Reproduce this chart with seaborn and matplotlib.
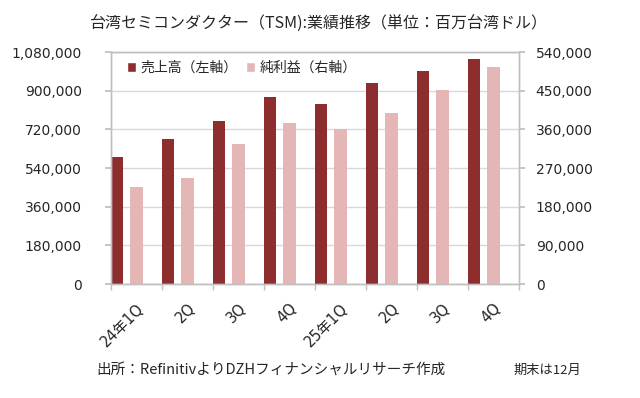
import numpy as np
import pandas as pd
import matplotlib
matplotlib.use("Agg")
import matplotlib.pyplot as plt
import matplotlib.transforms as mtransforms
import seaborn as sns
from matplotlib.patches import Patch
from matplotlib.ticker import FuncFormatter, FixedLocator

sns.set_theme(style="white")
plt.rcParams["font.family"] = ["DejaVu Sans", "Noto Sans CJK JP"]

# ---- data (百万台湾ドル) ----
quarters = ["24年1Q", "2Q", "3Q", "4Q", "25年1Q", "2Q", "3Q", "4Q"]
revenue = [592600, 673500, 759700, 868500, 839300, 933800, 989900, 1046100]
net_income = [225500, 247800, 325300, 374700, 361600, 398300, 452300, 505700]
left_ticks = [0, 180000, 360000, 540000, 720000, 900000, 1080000]
right_ticks = [0, 90000, 180000, 270000, 360000, 450000, 540000]
series_names = ["売上高（左軸）", "純利益（右軸）"]

RED = "#8E2D2D"
PINK = "#E4B6B6"
GRID = "#D9D9D9"
SPINE = "#BFBFBF"
TXT = "#262626"
CJK = ["Noto Sans CJK JP", "DejaVu Sans"]

fig = plt.figure(figsize=(6.4, 3.98), dpi=100)
ax = fig.add_axes([111 / 640, 1 - 284 / 398, 408 / 640, 232 / 398])
ax2 = ax.twinx()

idx = np.arange(len(quarters))
df = pd.DataFrame({
    "pos_rev": idx + 0.12,
    "pos_ni": idx + 0.50,
    "revenue": revenue,
    "net_income": net_income,
})

sns.barplot(data=df, x="pos_rev", y="revenue", native_scale=True, width=0.24,
            color=RED, saturation=1, ax=ax, linewidth=0)
sns.barplot(data=df, x="pos_ni", y="net_income", native_scale=True, width=0.26,
            color=PINK, saturation=1, ax=ax2, linewidth=0)

ax.set_xlim(0, len(quarters))
ax.set_ylim(0, left_ticks[-1])
ax2.set_ylim(0, right_ticks[-1])
ax.set_yticks(left_ticks)
ax2.set_yticks(right_ticks)
fmt = FuncFormatter(lambda v, p: f"{v:,.0f}")
ax.yaxis.set_major_formatter(fmt)
ax2.yaxis.set_major_formatter(fmt)

ax.set_xticks(idx + 0.5)
ax.set_xticklabels(quarters, rotation=45, ha="right", rotation_mode="anchor",
                   fontsize=10.5, color=TXT)
shift = mtransforms.ScaledTranslation(-4 / 100, 0, fig.dpi_scale_trans)
for lbl in ax.get_xticklabels():
    lbl.set_transform(lbl.get_transform() + shift)
ax.xaxis.set_minor_locator(FixedLocator(np.arange(len(quarters) + 1)))
ax.tick_params(axis="x", which="major", length=0, pad=12)
ax.tick_params(axis="x", which="minor", length=4, color=SPINE, width=1, bottom=True)
ax.tick_params(axis="y", length=4, color=SPINE, labelsize=10, labelcolor=TXT, pad=17, left=True)
ax2.tick_params(axis="y", length=4, color=SPINE, labelsize=10, labelcolor=TXT, pad=8, right=True)

for a in (ax, ax2):
    a.set_xlabel("")
    a.set_ylabel("")
    for s in a.spines.values():
        s.set_color(SPINE)
        s.set_linewidth(1)
ax.set_axisbelow(True)
ax.yaxis.grid(True, color=GRID, linewidth=1)
ax2.grid(False)

handles = [Patch(facecolor=RED), Patch(facecolor=PINK)]
ax2.legend(handles, series_names, loc="center left", bbox_to_anchor=(0.025, 0.931),
           frameon=False, ncol=2, handlelength=0.65, handleheight=0.65,
           handletextpad=0.35, columnspacing=0.6, borderaxespad=0, labelcolor=TXT,
           prop={"family": CJK, "size": 10})

fig.text(319 / 640, 1 - 24 / 398, "台湾セミコンダクター（TSM):業績推移（単位：百万台湾ドル）",
         ha="center", va="center", fontsize=11.5, color=TXT, family=CJK)
fig.text(96 / 640, 1 - 370 / 398, "出所：RefinitivよりDZHフィナンシャルリサーチ作成",
         ha="left", va="center", fontsize=10.5, color=TXT, family=CJK)
fig.text(513 / 640, 1 - 370 / 398, "期末は12月",
         ha="left", va="center", fontsize=9.5, color=TXT, family=CJK)

fig.savefig("out.png", dpi=100, facecolor="white")
